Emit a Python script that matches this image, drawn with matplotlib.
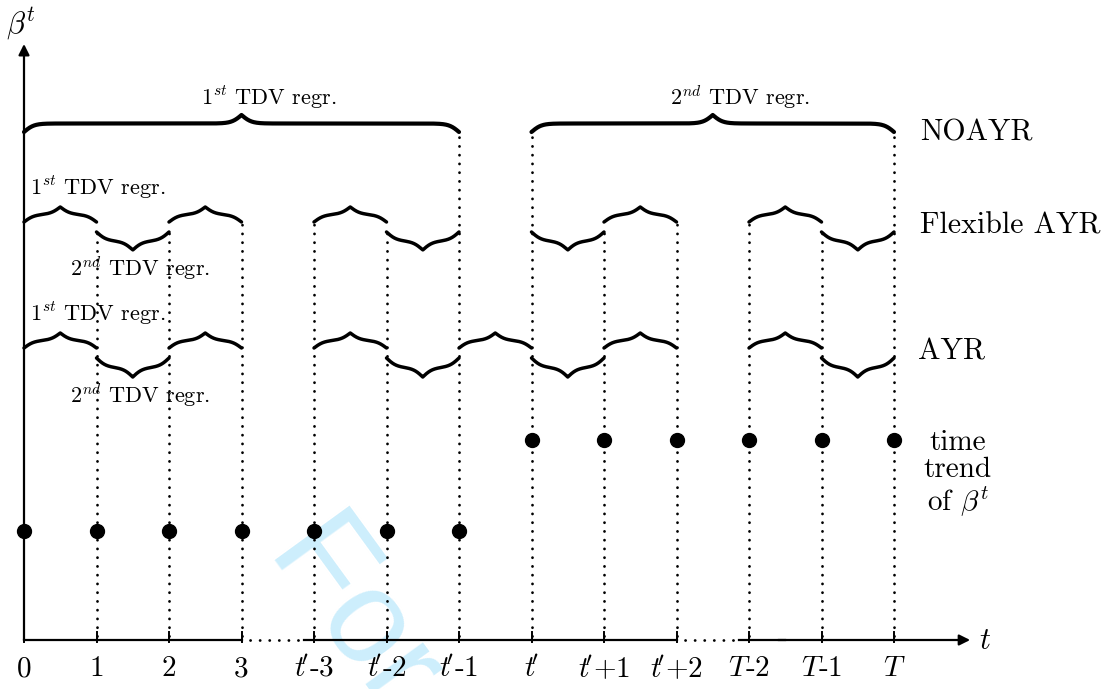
import numpy as np
import matplotlib
matplotlib.use("Agg")
import matplotlib.pyplot as plt

plt.rcParams['mathtext.fontset'] = 'cm'
plt.rcParams['font.family'] = 'serif'
plt.rcParams['font.serif'] = ['cmr10']
plt.rcParams['axes.unicode_minus'] = False
plt.rcParams['axes.formatter.use_mathtext'] = True

# ---------------- data ----------------
tick_labels = ['0', '1', '2', '3', r"$t\!'$-3", r"$t\!'$-2", r"$t\!'$-1", r"$t\!'$",
               r"$t\!'$+1", r"$t\!'$+2", "$T$-2", "$T$-1", "$T$"]
periods = list(range(len(tick_labels)))
beta_t = [109, 109, 109, 109, 109, 109, 109, 200, 200, 200, 200, 200, 200]

noayr_spans = [(0, 6), (7, 12)]
noayr_labels = ["$1^{st}$ TDV regr.", "$2^{nd}$ TDV regr."]
flex_up = [(0, 1), (2, 3), (4, 5), (8, 9), (10, 11)]
flex_down = [(1, 2), (5, 6), (7, 8), (11, 12)]
ayr_up = [(0, 1), (2, 3), (4, 5), (6, 7), (8, 9), (10, 11)]
ayr_down = [(1, 2), (5, 6), (7, 8), (11, 12)]
row_labels = ["NOAYR", "Flexible AYR", "AYR"]
dotted_gaps = [(3, 4), (9, 10)]

# ---------------- layout ----------------
PX = 72.5  # pixels per period
fig = plt.figure(figsize=(11.12, 6.89), dpi=100)
ax = fig.add_axes([0, 0, 1, 1])
ax.set_xlim(-24 / PX, (1112 - 24) / PX)
ax.set_ylim(-49, 640)
ax.axis('off')

NOAYR_Y, NOAYR_H = 508, 17
FUP_Y, FUP_H = 418, 15
FDN_Y, FDN_H = 408, 18
AUP_Y, AUP_H = 292, 15
ADN_Y, ADN_H = 282, 19


def brace(x0, x1, y0, h, up=True, lw=2.5):
    n = 600
    x = np.linspace(x0, x1, n + 1)
    half = x[:n // 2 + 1]
    beta = 14.5
    yh = (1 / (1 + np.exp(-beta * (half - half[0])))
          + 1 / (1 + np.exp(-beta * (half - half[-1]))))
    yy = np.concatenate((yh, yh[-2::-1]))
    yy = yy - yy[0]
    yy = yy / yy.max()
    s = 1 if up else -1
    ax.plot(x, y0 + s * h * yy, color='k', lw=lw, solid_capstyle='round', zorder=3)


# braces
for (a, b), lab in zip(noayr_spans, noayr_labels):
    brace(a, b, NOAYR_Y, NOAYR_H, True, lw=3.0)
    ax.text((a + b) / 2 + 0.38, 543, lab, fontsize=16, ha='center', va='center')
for a, b in flex_up:
    brace(a, b, FUP_Y, FUP_H, True)
for a, b in flex_down:
    brace(a, b, FDN_Y, FDN_H, False)
for a, b in ayr_up:
    brace(a, b, AUP_Y, AUP_H, True)
for a, b in ayr_down:
    brace(a, b, ADN_Y, ADN_H, False)

# small labels
ax.text(0.08, 453, "$1^{st}$ TDV regr.", fontsize=16, ha='left', va='center')
ax.text(0.63, 372, "$2^{nd}$ TDV regr.", fontsize=16, ha='left', va='center')
ax.text(0.08, 327, "$1^{st}$ TDV regr.", fontsize=16, ha='left', va='center')
ax.text(0.63, 245, "$2^{nd}$ TDV regr.", fontsize=16, ha='left', va='center')

# vertical dotted lines
noayr_ends = {p for s in noayr_spans for p in s}
fdown_ends = {p for s in flex_down for p in s}
for p in periods[1:]:
    if p in noayr_ends:
        top = NOAYR_Y
    elif p in fdown_ends:
        top = FDN_Y
    else:
        top = FUP_Y
    ax.plot([p, p], [4, top], color='k', lw=2.0,
            linestyle=(0, (0.05, 3.1)), dash_capstyle='round', zorder=2)

# ticks
for p in periods:
    ax.plot([p, p], [-2, 8], color='k', lw=1.4, zorder=3)
    ax.text(p, -29, tick_labels[p], fontsize=21, ha='center', va='center')

# x axis with dotted gaps
segs = [(0, 3), (3.86, 9), (9.86, 10.5)]
for a, b in segs:
    ax.plot([a, b], [0, 0], color='k', lw=1.6, zorder=3)
for a, b in dotted_gaps:
    ax.plot([a + 0.12, b - 0.14], [0, 0], color='k', lw=2.0,
            linestyle=(0, (0.05, 3.4)), dash_capstyle='round', zorder=3)
ax.annotate('', xy=(13.05, 0), xytext=(10.4, 0),
            arrowprops=dict(arrowstyle='-|>', lw=1.6, color='k',
                            mutation_scale=16, shrinkA=0, shrinkB=0))
ax.annotate('', xy=(0, 596), xytext=(0, 0),
            arrowprops=dict(arrowstyle='-|>', lw=1.6, color='k',
                            mutation_scale=16, shrinkA=0, shrinkB=0))
ax.text(13.25, -1, "$t$", fontsize=22, ha='center', va='center')
ax.text(-0.04, 616, r"$\beta^t$", fontsize=22, ha='center', va='center')

# dots
ax.plot(periods, beta_t, 'o', color='k', markersize=10, zorder=4, linestyle='none')

# row labels
ax.text(12.36, 507, row_labels[0], fontsize=21.5, ha='left', va='center')
ax.text(12.36, 414, row_labels[1], fontsize=21.5, ha='left', va='center')
ax.text(12.33, 288, row_labels[2], fontsize=21.5, ha='left', va='center')
ax.text(12.88, 166, "time\ntrend\nof $\\beta^t$", fontsize=21, ha='center',
        va='center', multialignment='center', linespacing=1.05)

# watermark
ax.text((268 - 24) / PX, 90, "For Peer Review", fontsize=96, color='#cdeefc',
        rotation=-54, rotation_mode='anchor', ha='left', va='baseline',
        family='Liberation Sans', zorder=0)

fig.savefig('out.png', dpi=100)
